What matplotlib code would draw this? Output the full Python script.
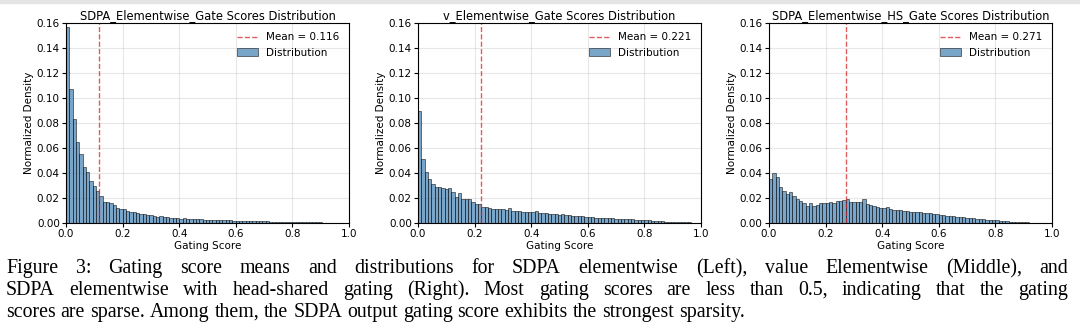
import matplotlib
matplotlib.use("Agg")
import matplotlib.pyplot as plt
import numpy as np

titles = ["SDPA_Elementwise_Gate Scores Distribution",
          "v_Elementwise_Gate Scores Distribution",
          "SDPA_Elementwise_HS_Gate Scores Distribution"]
means = [0.116, 0.221, 0.271]

# normalized density per bin (85 bins over [0, 1])
sdpa = [0.157, 0.107, 0.083, 0.065, 0.055, 0.045, 0.041, 0.034, 0.030, 0.026,
        0.022, 0.017, 0.0165, 0.016, 0.0148, 0.012, 0.0115, 0.011, 0.0095, 0.0092,
        0.0085, 0.0082, 0.0075, 0.0072, 0.0066, 0.0062, 0.0058, 0.0052, 0.0055, 0.0048,
        0.0046, 0.0043, 0.0040, 0.0038, 0.0036, 0.0038, 0.0034, 0.0032, 0.0031, 0.0030,
        0.0029, 0.0028, 0.0027, 0.0026, 0.0025, 0.0024, 0.0023, 0.0022, 0.0022, 0.0021,
        0.0020, 0.0019, 0.0018, 0.0018, 0.0017, 0.0016, 0.0016, 0.0015, 0.0014, 0.0014,
        0.0013, 0.0012, 0.0012, 0.0011, 0.0011, 0.0010, 0.0010, 0.0009, 0.0009, 0.0008,
        0.0008, 0.0007, 0.0007, 0.0006, 0.0006, 0.0005, 0.0005, 0.0004, 0.0003, 0.0002,
        0.0001, 0.0001, 0.0, 0.0, 0.0]
v_gate = [0.090, 0.051, 0.041, 0.035, 0.031, 0.029, 0.029, 0.028, 0.027, 0.028,
          0.025, 0.021, 0.024, 0.019, 0.019, 0.019, 0.017, 0.015, 0.015, 0.013,
          0.013, 0.012, 0.0115, 0.0113, 0.011, 0.011, 0.0105, 0.0122, 0.0098, 0.0097,
          0.0093, 0.0091, 0.0088, 0.0087, 0.0085, 0.0100, 0.0083, 0.0080, 0.0078, 0.0076,
          0.0072, 0.0070, 0.0068, 0.0075, 0.0064, 0.0062, 0.0060, 0.0058, 0.0055, 0.0060,
          0.0050, 0.0048, 0.0046, 0.0044, 0.0043, 0.0042, 0.0040, 0.0038, 0.0037, 0.0035,
          0.0034, 0.0033, 0.0032, 0.0030, 0.0029, 0.0028, 0.0026, 0.0025, 0.0024, 0.0022,
          0.0020, 0.0018, 0.0016, 0.0014, 0.0012, 0.0011, 0.0010, 0.0009, 0.0008, 0.0007,
          0.0006, 0.0005, 0.0004, 0.0003, 0.0002]
sdpa_hs = [0.035, 0.040, 0.0365, 0.029, 0.026, 0.0235, 0.0245, 0.0215, 0.019, 0.018,
           0.0158, 0.0138, 0.016, 0.0138, 0.0145, 0.0157, 0.0162, 0.0157, 0.017, 0.0158,
           0.0178, 0.0173, 0.0183, 0.0189, 0.0172, 0.0168, 0.0168, 0.0168, 0.0190, 0.0150,
           0.0146, 0.0135, 0.0130, 0.0123, 0.0118, 0.0125, 0.0110, 0.0106, 0.0104, 0.0101,
           0.0098, 0.0095, 0.0092, 0.0090, 0.0088, 0.0086, 0.0083, 0.0080, 0.0077, 0.0074,
           0.0070, 0.0066, 0.0063, 0.0060, 0.0057, 0.0054, 0.0051, 0.0048, 0.0045, 0.0042,
           0.0040, 0.0037, 0.0034, 0.0032, 0.0030, 0.0028, 0.0026, 0.0024, 0.0022, 0.0020,
           0.0017, 0.0015, 0.0012, 0.0010, 0.0008, 0.0007, 0.0006, 0.0005, 0.0004, 0.0003,
           0.0002, 0.0002, 0.0001, 0.0001, 0.0]
series = [sdpa, v_gate, sdpa_hs]

caption = [
    "Figure 3: Gating score means and distributions for SDPA elementwise (Left), value Elementwise (Middle), and",
    "SDPA elementwise with head-shared gating (Right). Most gating scores are less than 0.5, indicating that the gating",
    "scores are sparse. Among them, the SDPA output gating score exhibits the strongest sparsity.",
]

plt.rcParams['font.family'] = 'DejaVu Sans'
fig = plt.figure(figsize=(10.8, 3.36), dpi=100)
fig.patches.append(plt.Rectangle((0, 1 - 3 / 336), 1, 3 / 336, transform=fig.transFigure,
                                 color='#e4e4e4', zorder=0))

lefts = [66, 418, 769]
for k in range(3):
    ax = fig.add_axes([lefts[k] / 1080, 113 / 336, 283 / 1080, 200 / 336])
    h = np.array(series[k])
    edges = np.linspace(0, 1, len(h) + 1)
    ax.axvline(means[k], color='#d62728', linestyle='--', linewidth=1, alpha=0.75,
               label='Mean = %.3f' % means[k])
    ax.bar(edges[:-1], h, width=edges[1] - edges[0], align='edge',
           color='steelblue', edgecolor='black', linewidth=0.5, alpha=0.72,
           label='Distribution')
    ax.set_xlim(0, 1)
    ax.set_ylim(0, 0.16)
    ax.set_xticks(np.arange(0, 1.01, 0.2))
    ax.set_yticks(np.arange(0, 0.161, 0.02))
    ax.grid(True, alpha=0.3)
    ax.set_axisbelow(True)
    ax.tick_params(labelsize=7.5, length=3, pad=1.5)
    ax.set_title(titles[k], fontsize=8.3, pad=3)
    ax.set_xlabel('Gating Score', fontsize=7.5, labelpad=1)
    ax.set_ylabel('Normalized Density', fontsize=7.5, labelpad=2)
    ax.legend(loc='upper right', fontsize=7.5, frameon=False, handlelength=2)

# caption: justified lines, word by word, on a common baseline
renderer = fig.canvas.get_renderer()
x0, x1 = 6, 1068
baselines = [273, 295, 317]
for n, (line, y) in enumerate(zip(caption, baselines)):
    words = line.split(' ')
    texts = [fig.text(0, 1 - y / 336, w, fontsize=14.3, family='Liberation Serif',
                      va='baseline', ha='left') for w in words]
    widths = [t.get_window_extent(renderer).width for t in texts]
    if n < len(caption) - 1:
        gap = (x1 - x0 - sum(widths)) / (len(words) - 1)
    else:
        gap = 14.3 * 100 / 72 * 0.25
    x = x0
    for t, w in zip(texts, widths):
        t.set_x(x / 1080)
        x += w + gap

fig.savefig('out.png', dpi=100)
